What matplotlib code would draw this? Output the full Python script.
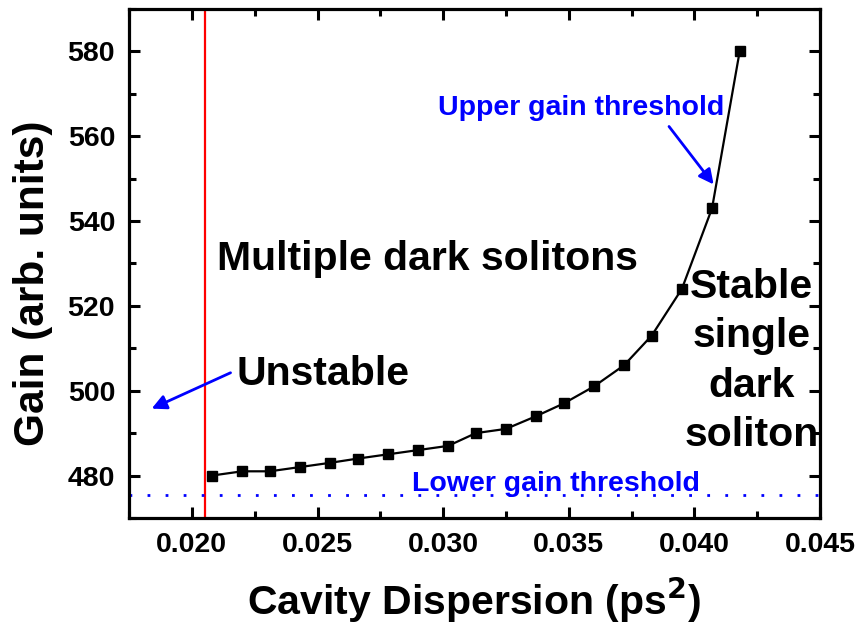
import matplotlib
matplotlib.use('Agg')
import matplotlib.pyplot as plt
from matplotlib.ticker import MultipleLocator

# Data
dispersion = [0.0208, 0.0220, 0.0231, 0.0243, 0.0255, 0.0266, 0.0278, 0.0290,
              0.0302, 0.0313, 0.0325, 0.0337, 0.0348, 0.0360, 0.0372, 0.0383,
              0.0395, 0.0407, 0.0418]
gain = [480, 481, 481, 482, 483, 484, 485, 486, 487, 490, 491, 494, 497,
        501, 506, 513, 524, 543, 580]
lower_threshold = 475.3
unstable_limit = 0.02053

plt.rcParams['font.family'] = ['Liberation Sans', 'DejaVu Sans']
plt.rcParams['font.weight'] = 'bold'

fig = plt.figure(figsize=(8.66, 6.34), dpi=100)
ax = fig.add_axes([0.149, 0.183, 0.798, 0.803])

ax.plot(dispersion, gain, color='black', lw=1.6, marker='s', markersize=7,
        zorder=3)
ax.axvline(unstable_limit, color='red', lw=1.6)
ax.axhline(lower_threshold, color='blue', lw=2, linestyle=(0, (1, 5.5)))

ax.set_xlim(0.0175, 0.045)
ax.set_ylim(470, 590)
ax.xaxis.set_major_locator(MultipleLocator(0.005))
ax.xaxis.set_minor_locator(MultipleLocator(0.0025))
ax.yaxis.set_major_locator(MultipleLocator(20))
ax.yaxis.set_minor_locator(MultipleLocator(10))
ax.tick_params(which='both', direction='in', top=True, right=True, width=2.2)
ax.tick_params(which='major', length=8, labelsize=20.5, pad=10)
ax.tick_params(which='minor', length=5)
for s in ax.spines.values():
    s.set_linewidth(2.3)
ax.xaxis.set_major_formatter(plt.FuncFormatter(lambda v, p: f'{v:.3f}'))

ax.set_xlabel('Cavity Dispersion (ps$^\\mathbf{2}$)', fontsize=29.5,
              fontweight='bold', labelpad=13)
ax.set_ylabel('Gain (arb. units)', fontsize=30.5, fontweight='bold')
ax.yaxis.set_label_coords(-0.11, 0.462)

ax.text(0.02938, 528.5, 'Multiple dark solitons', fontsize=29.5,
        fontweight='bold', ha='center', va='baseline')
ax.text(0.0252, 501.4, 'Unstable', fontsize=29.5, fontweight='bold',
        ha='center', va='baseline')
ax.text(0.04226, 507.0, 'Stable\nsingle\ndark\nsoliton', fontsize=29.5,
        fontweight='bold', ha='center', va='center', linespacing=1.37)
ax.text(0.0355, 564.9, 'Upper gain threshold', fontsize=20.5, fontweight='bold',
        color='blue', ha='center', va='baseline')
ax.text(0.0345, 476.4, 'Lower gain threshold', fontsize=20.5, fontweight='bold',
        color='blue', ha='center', va='baseline')

ax.annotate('', xy=(0.04083, 548.1), xytext=(0.03892, 562.8),
            arrowprops=dict(arrowstyle='-|>', color='blue', lw=2,
                            mutation_scale=22))
ax.annotate('', xy=(0.0183, 495.5), xytext=(0.02164, 504.5),
            arrowprops=dict(arrowstyle='-|>', color='blue', lw=2,
                            mutation_scale=22))

fig.savefig('out.png', dpi=100)
